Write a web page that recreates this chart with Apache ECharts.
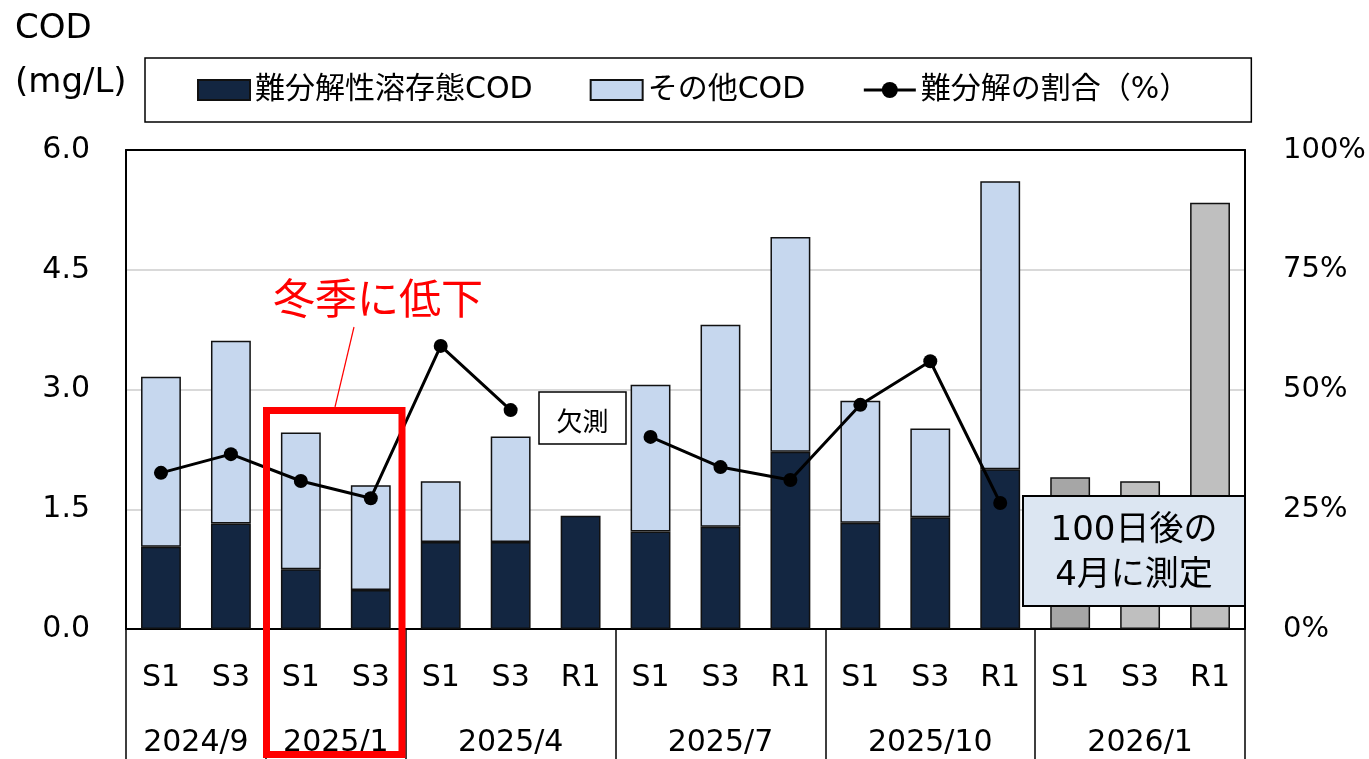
<!DOCTYPE html>
<html>
<head>
<meta charset="utf-8">
<script src="https://cdn.jsdelivr.net/npm/echarts@6/dist/echarts.min.js"></script>
<style>
  html, body { margin: 0; padding: 0; background: #fff; }
  #main { width: 1369px; height: 759px; }
</style>
</head>
<body>
<div id="main"></div>
<script>
// groups on the lower axis row, and how many sites each one has
const groups = ['2024/9', '2025/1', '2025/4', '2025/7', '2025/10', '2026/1'];
const groupSizes = [2, 2, 3, 3, 3, 3];
const sites = ['S1', 'S3', 'S1', 'S3', 'S1', 'S3', 'R1', 'S1', 'S3', 'R1', 'S1', 'S3', 'R1', 'S1', 'S3', 'R1'];

// COD (mg/L)
const refractoryCod = [1.03, 1.32, 0.75, 0.49, 1.09, 1.09, 1.42, 1.22, 1.28, 2.22, 1.33, 1.40, 2.00, '-', '-', '-'];
const otherCod = [2.13, 2.29, 1.71, 1.31, 0.76, 1.32, '-', 1.84, 2.53, 2.69, 1.53, 1.11, 3.61, '-', '-', '-'];
const laterCod = ['-', '-', '-', '-', '-', '-', '-', '-', '-', '-', '-', '-', '-', 1.90, 1.85, 5.34];
// ratio (%)
const refractoryRatio = [32.6, 36.5, 30.9, 27.3, 59.1, 45.7, '-', 40.1, 33.8, 31.1, 46.8, 55.9, 26.3, '-', '-', '-'];

const FONT = "'DejaVu Sans', 'Noto Sans CJK JP', sans-serif";
const laterColors = ['#a6a6a6', '#bfbfbf', '#bfbfbf'];

// half-step axis for the group row: 2 points per site + 1
const halfData = [];
const halfLabel = {};
const boundaries = [0];
let pos = 0;
groups.forEach((g, i) => {
  halfLabel[pos + groupSizes[i]] = g;
  pos += groupSizes[i] * 2;
  boundaries.push(pos);
});
for (let i = 0; i <= pos; i++) halfData.push(String(i));

const chart = echarts.init(document.getElementById('main'));
chart.setOption({
  animation: false,
  textStyle: { fontFamily: FONT },
  title: {
    text: 'COD\n(mg/L)',
    left: 10,
    top: -3,
    textStyle: { fontFamily: FONT, fontSize: 34, fontWeight: 'normal', color: '#000', lineHeight: 54 }
  },
  legend: {
    left: 145,
    top: 58,
    padding: [17, 62, 17, 52],
    itemGap: 57,
    itemWidth: 52,
    itemHeight: 20,
    borderColor: '#000',
    borderWidth: 1.5,
    textStyle: { fontFamily: FONT, fontSize: 30, color: '#000' },
    data: [
      { name: '難分解性溶存態COD', icon: 'rect' },
      { name: 'その他COD', icon: 'rect' },
      { name: '難分解の割合（%）', lineStyle: { width: 3, color: '#000' } }
    ]
  },
  grid: {
    left: 126,
    right: 124,
    top: 150,
    bottom: 130
  },
  xAxis: [{
    type: 'category',
    position: 'bottom',
    data: sites,
    axisLine: { lineStyle: { color: '#000', width: 2 } },
    axisTick: { show: false },
    axisLabel: { margin: 34, fontSize: 30, color: '#000', fontFamily: FONT, interval: 0 }
  }, {
    type: 'category',
    position: 'bottom',
    boundaryGap: false,
    data: halfData,
    axisLine: { show: false },
    axisTick: {
      show: true,
      length: 140,
      interval: (i) => boundaries.includes(i),
      lineStyle: { color: '#000', width: 1.5 }
    },
    axisLabel: {
      margin: 99,
      fontSize: 30,
      color: '#000',
      fontFamily: FONT,
      interval: (i) => halfLabel[i] !== undefined,
      formatter: (v) => halfLabel[Number(v)] || ''
    }
  }, {
    // top frame of the plot
    type: 'category',
    position: 'top',
    data: sites,
    axisLine: { show: true, lineStyle: { color: '#000', width: 2 } },
    axisTick: { show: false },
    axisLabel: { show: false }
  }],
  yAxis: [{
    type: 'value',
    min: 0,
    max: 6,
    interval: 1.5,
    axisLine: { show: true, lineStyle: { color: '#000', width: 2 } },
    axisTick: { show: false },
    splitLine: { lineStyle: { color: '#d9d9d9', width: 2 } },
    axisLabel: { margin: 36, fontSize: 30, color: '#000', fontFamily: FONT, formatter: (v) => v.toFixed(1) }
  }, {
    type: 'value',
    position: 'right',
    min: 0,
    max: 100,
    interval: 25,
    axisLine: { show: true, lineStyle: { color: '#000', width: 2 } },
    axisTick: { show: false },
    splitLine: { show: false },
    axisLabel: { margin: 38, fontSize: 29, color: '#000', fontFamily: FONT, formatter: '{value}%' }
  }],
  series: [{
    name: '難分解性溶存態COD',
    type: 'bar',
    stack: 'cod',
    barWidth: '57%',
    itemStyle: { color: '#132641', borderColor: '#111', borderWidth: 1.5 },
    data: refractoryCod
  }, {
    name: 'その他COD',
    type: 'bar',
    stack: 'cod',
    itemStyle: { color: '#c6d7ee', borderColor: '#111', borderWidth: 1.5 },
    data: otherCod
  }, {
    name: '100日後',
    type: 'bar',
    stack: 'cod',
    itemStyle: { borderColor: '#111', borderWidth: 1.5 },
    data: laterCod.map((v, i) => ({
      value: v,
      itemStyle: { color: laterColors[(i - 13 + 3) % 3] }
    }))
  }, {
    name: '難分解の割合（%）',
    type: 'line',
    yAxisIndex: 1,
    symbol: 'circle',
    symbolSize: 14,
    itemStyle: { color: '#000' },
    lineStyle: { color: '#000', width: 3 },
    z: 5,
    data: refractoryRatio
  }],
  graphic: [{
    type: 'text',
    z: 100,
    left: 273,
    top: 277,
    style: { text: '冬季に低下', fill: '#ff0000', font: "42px 'Noto Sans CJK JP'" }
  }, {
    type: 'line',
    z: 100,
    shape: { x1: 354, y1: 327, x2: 335, y2: 407 },
    style: { stroke: '#ff0000', lineWidth: 1.2 }
  }, {
    type: 'rect',
    z: 100,
    shape: { x: 266.5, y: 410.5, width: 135.5, height: 344 },
    style: { fill: 'none', stroke: '#ff0000', lineWidth: 7 }
  }, {
    type: 'rect',
    z: 100,
    shape: { x: 539, y: 392, width: 87, height: 52 },
    style: { fill: '#fff', stroke: '#000', lineWidth: 1.5 }
  }, {
    type: 'text',
    z: 101,
    x: 582.5,
    y: 421,
    style: { text: '欠測', fill: '#000', font: "26px 'Noto Sans CJK JP'", align: 'center', verticalAlign: 'middle' }
  }, {
    type: 'rect',
    z: 100,
    shape: { x: 1023, y: 496, width: 222, height: 110 },
    style: { fill: '#dce6f2', stroke: '#000', lineWidth: 2 }
  }, {
    type: 'text',
    z: 101,
    x: 1134,
    y: 554,
    style: {
      text: '100日後の\n4月に測定',
      fill: '#000',
      font: "34px 'DejaVu Sans', 'Noto Sans CJK JP'",
      lineHeight: 45,
      align: 'center',
      verticalAlign: 'middle'
    }
  }]
});
</script>
</body>
</html>
